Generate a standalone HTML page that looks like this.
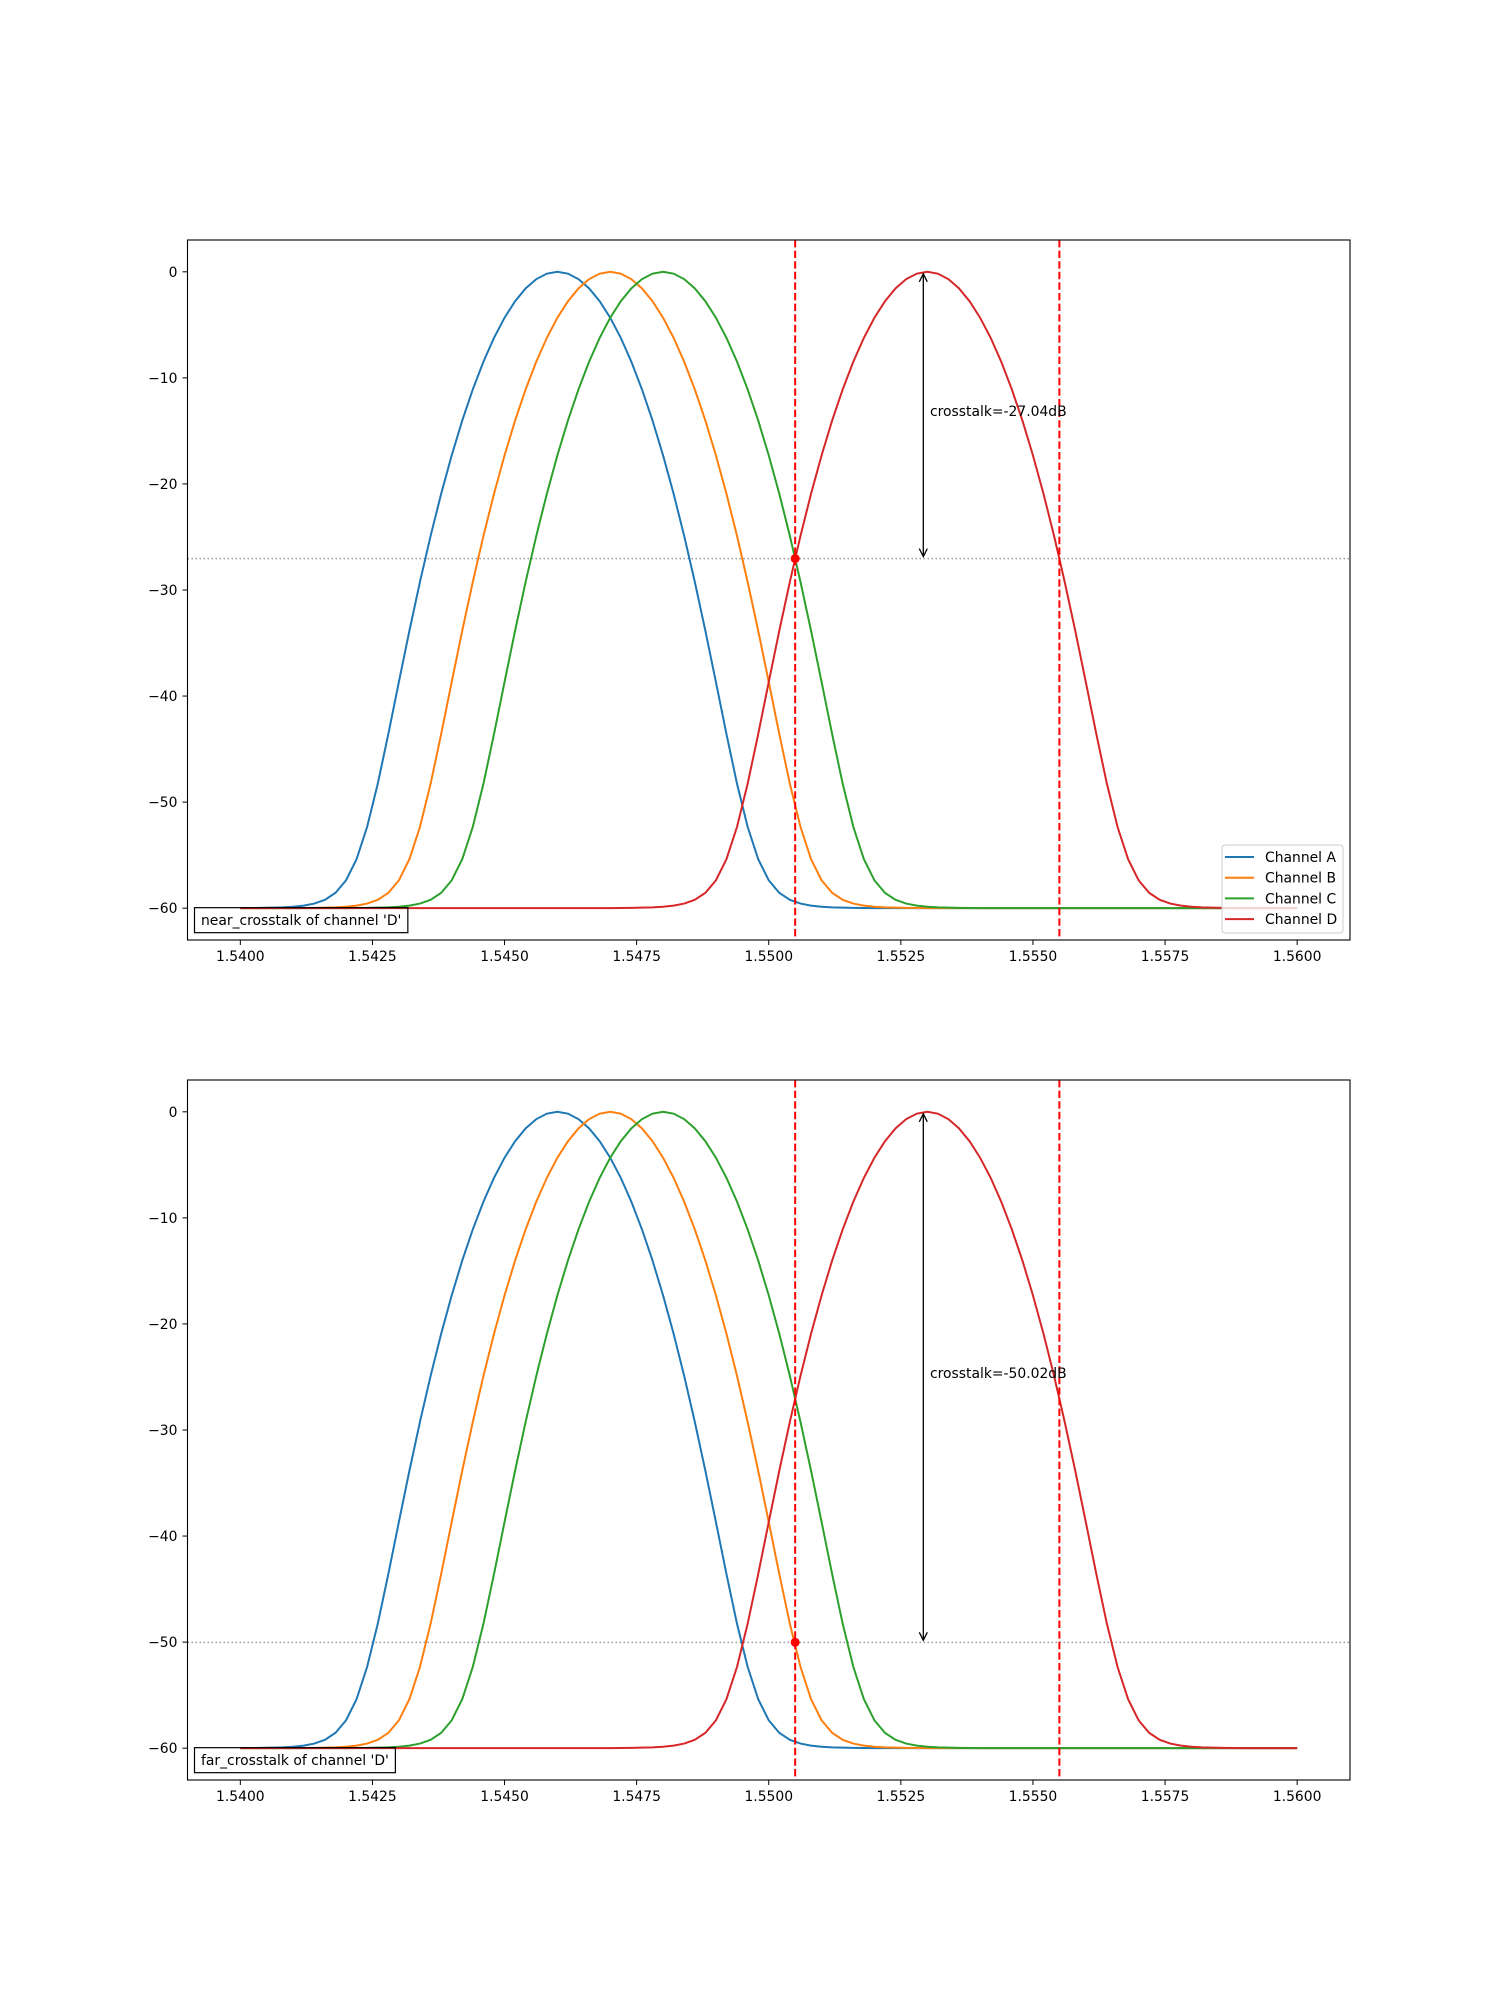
<!DOCTYPE html>
<html><head><meta charset="utf-8">
<style>
html,body{margin:0;padding:0;background:#fff;}
svg{display:block;font-family:"DejaVu Sans","Liberation Sans",sans-serif;}
</style></head>
<body>
<svg id="s" width="1500" height="2000" viewBox="0 0 1500 2000" xmlns="http://www.w3.org/2000/svg">
<rect width="1500" height="2000" fill="#fff"/>
<g id="ax1"></g>
<g id="ax2"></g>
</svg>
<script>
const NS="http://www.w3.org/2000/svg";
const L=187.5,R=1350,W=R-L;
function X(v){return L+(v-1.539)/0.022*W;}
const k=27.04/6.25e-6;
function f(x,c){const d=x-c;const G=k*d*d;if(G<1e-9)return 0;return -60*Math.pow(1+Math.pow(60/G,7),-1/7);}
function el(parent,tag,attrs,text){const e=document.createElementNS(NS,tag);for(const a in attrs)e.setAttribute(a,attrs[a]);if(text!==undefined)e.textContent=text;parent.appendChild(e);return e;}
function draw(g,top,xt,label,lbl2,legend){
  const bot=top+700;
  function Y(v){return top+(3-v)/66*700;}
  const clip="c"+top;
  const cp=el(g,"clipPath",{id:clip});el(cp,"rect",{x:L,y:top,width:W,height:700});
  const pg=el(g,"g",{"clip-path":"url(#"+clip+")"});
  const cols=["#1f77b4","#ff7f0e","#2ca02c","#d62728"],cs=[1.546,1.547,1.548,1.553];
  el(pg,"line",{x1:L,x2:R,y1:Y(xt),y2:Y(xt),stroke:"#808080","stroke-width":1.5,"stroke-dasharray":"1.5,2.5",opacity:0.8});
  for(let i=0;i<4;i++){let d="";for(let j=0;j<=100;j++){const x=1.54+j*0.0002;d+=(j?"L":"M")+X(x).toFixed(2)+","+Y(f(x,cs[i])).toFixed(2);}
    el(pg,"path",{d:d,fill:"none",stroke:cols[i],"stroke-width":2});}
  [1.5505,1.5555].forEach(v=>el(pg,"line",{x1:X(v),x2:X(v),y1:top,y2:bot,stroke:"#ff0000","stroke-width":2,"stroke-dasharray":"7.4,3.2"}));
  el(pg,"circle",{cx:X(1.5505),cy:Y(xt),r:4.5,fill:"#ff0000"});
  const ax=923.3,y0=Y(0)+2,y1=Y(xt)-2;
  el(g,"line",{x1:ax,x2:ax,y1:y0,y2:y1,stroke:"#000","stroke-width":1.3});
  el(g,"path",{d:`M${ax-4},${y0+8}L${ax},${y0}L${ax+4},${y0+8}M${ax-4},${y1-8}L${ax},${y1}L${ax+4},${y1-8}`,fill:"none",stroke:"#000","stroke-width":1.3});
  el(g,"text",{x:930,y:Y(xt/2)+1,"font-size":"13.9px",fill:"#000"},label);
  el(g,"rect",{x:L,y:top,width:W,height:700,fill:"none",stroke:"#000","stroke-width":1.1});
  for(let v=0;v>=-60;v-=10){const y=Y(v);el(g,"line",{x1:L-5,x2:L,y1:y,y2:y,stroke:"#000","stroke-width":1});
    el(g,"text",{x:L-10,y:y+5,"text-anchor":"end","font-size":"13.9px"},v==0?"0":"\u2212"+(-v));}
  for(let j=0;j<=8;j++){const v=1.54+j*0.0025,x=X(v);el(g,"line",{x1:x,x2:x,y1:bot,y2:bot+5,stroke:"#000","stroke-width":1});
    el(g,"text",{x:x,y:bot+21,"text-anchor":"middle","font-size":"13.9px"},v.toFixed(4));}
  const t=el(g,"text",{x:201,y:Y(-60)+17,"font-size":"13.9px"},lbl2);
  const w=t.getComputedTextLength?t.getComputedTextLength():200;
  el(g,"rect",{x:194.5,y:Y(-60)-0.5,width:w+13,height:25,fill:"none",stroke:"#000","stroke-width":1.2});
  if(legend){
    el(g,"rect",{x:1222,y:top+605,width:121,height:88,rx:3,fill:"#fff","fill-opacity":0.8,stroke:"#ccc","stroke-width":1});
    const n=["Channel A","Channel B","Channel C","Channel D"];
    for(let i=0;i<4;i++){const y=top+617+i*20.7;el(g,"line",{x1:1225,x2:1254,y1:y,y2:y,stroke:cols[i],"stroke-width":2});
      el(g,"text",{x:1265,y:y+5,"font-size":"13.9px"},n[i]);}
  }
}
draw(document.getElementById("ax1"),240,-27.04,"crosstalk=-27.04dB","near_crosstalk of channel 'D'",true);
draw(document.getElementById("ax2"),1080,-50.02,"crosstalk=-50.02dB","far_crosstalk of channel 'D'",false);
</script>
</body></html>
